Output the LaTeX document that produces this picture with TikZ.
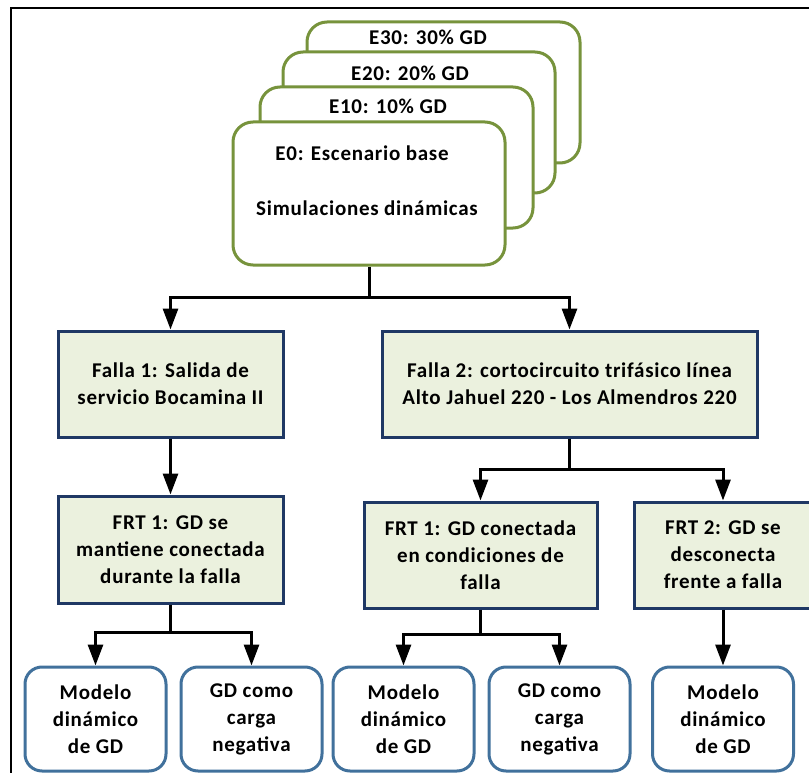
\documentclass[tikz,border=0pt]{standalone}
\usepackage{fontspec}
\setmainfont{Carlito}
\newfontfamily\diagfont[LetterSpace=3.5]{Carlito}
\usetikzlibrary{arrows.meta}

\definecolor{scengreen}{HTML}{77933C}
\definecolor{faultnavy}{HTML}{1F3864}
\definecolor{faultfill}{HTML}{EBF1DE}
\definecolor{modelblue}{HTML}{41719C}

\newcommand\boxfont{\diagfont\bfseries\fontsize{21}{27}\selectfont}

\tikzset{
  txt/.style={font=\boxfont, align=center, inner sep=0pt},
  scenbox/.style={draw=scengreen, line width=3pt, fill=white, rounded corners=20pt,
                  inner sep=0pt},
  faultbox/.style={draw=faultnavy, line width=3pt, fill=faultfill, inner sep=0pt,
                   font=\boxfont, align=center},
  modelbox/.style={draw=modelblue, line width=3pt, fill=white, rounded corners=17pt,
                   inner sep=0pt, minimum width=141pt, minimum height=104pt,
                   font=\boxfont, align=center},
  link/.style={line width=3pt, draw=black},
  arr/.style={link, -{Triangle[width=15pt,length=21pt]}},
}

\begin{document}
\begin{tikzpicture}[x=1pt,y=-1pt]
\useasboundingbox (0,0) rectangle (809,773);
\clip (0,0) rectangle (809,773);

% outer frame (top and left rules)
\draw[line width=2pt] (809,8) -- (11,8) -- (11,775);

% stacked scenario cards, back to front
\node[scenbox, minimum width=273pt, minimum height=141pt] (e30) at (443.5,92.5) {};
\node[txt] (e30t) at (428,37) {E30: 30\% GD};
\node[scenbox, minimum width=272pt, minimum height=141pt] (e20) at (419,122.5) {};
\node[txt] (e20t) at (410,73) {E20: 20\% GD};
\node[scenbox, minimum width=273pt, minimum height=141pt] (e10) at (396.5,157.5) {};
\node[txt] (e10t) at (388,106) {E10: 10\% GD};
\node[scenbox, minimum width=272pt, minimum height=143pt] (e0) at (369,193.5) {};
\node[txt] (e0a) at (362,153) {E0: Escenario base};
\node[txt] (e0b) at (367,208) {Simulaciones dinámicas};

% fault cases
\node[faultbox, minimum width=225pt, minimum height=106pt] (f1) at (170.5,384)
  {Falla 1: Salida de\\servicio Bocamina II};
\node[faultbox, minimum width=375pt, minimum height=106pt] (f2) at (569.5,384)
  {Falla 2: cortocircuito trifásico línea\\Alto Jahuel 220 - Los Almendros 220};

% FRT behaviour
\node[faultbox, minimum width=225pt, minimum height=107pt] (r1) at (170.5,549.5)
  {FRT 1: GD se\\mantiene conectada\\durante la falla};
\node[faultbox, minimum width=233pt, minimum height=106pt] (r2) at (480.5,555)
  {FRT 1: GD conectada\\en condiciones de\\falla};
\node[faultbox, minimum width=178pt, minimum height=106pt] (r3) at (723,555)
  {FRT 2: GD se\\desconecta\\frente a falla};

% GD models
\node[modelbox] (m1) at (95.5,719) {Modelo\\dinámico\\de GD};
\node[modelbox] (m2) at (251.5,719) {GD como\\carga\\negativa};
\node[modelbox] (m3) at (403.5,719) {Modelo\\dinámico\\de GD};
\node[modelbox] (m4) at (559.5,719) {GD como\\carga\\negativa};
\node[modelbox] (m5) at (723,719) {Modelo\\dinámico\\de GD};

% connectors
\coordinate (j0) at (369,297);
\draw[link] (e0.south) -- (j0);
\draw[arr] (j0) -| (f1.north);
\draw[arr] (j0) -| (f2.north);

\draw[arr] (f1.south) -- (r1.north);

\coordinate (j2) at (569.5,469);
\draw[link] (f2.south) -- (j2);
\draw[arr] (j2) -| (r2.north);
\draw[arr] (j2) -| (r3.north);

\coordinate (j3) at (170.5,632);
\draw[link] (r1.south) -- (j3);
\draw[arr] (j3) -| (m1.north);
\draw[arr] (j3) -| (m2.north);

\coordinate (j4) at (480.5,634);
\draw[link] (r2.south) -- (j4);
\draw[arr] (j4) -| (m3.north);
\draw[arr] (j4) -| (m4.north);

\draw[arr] (r3.south) -- (m5.north);
\end{tikzpicture}
\end{document}
